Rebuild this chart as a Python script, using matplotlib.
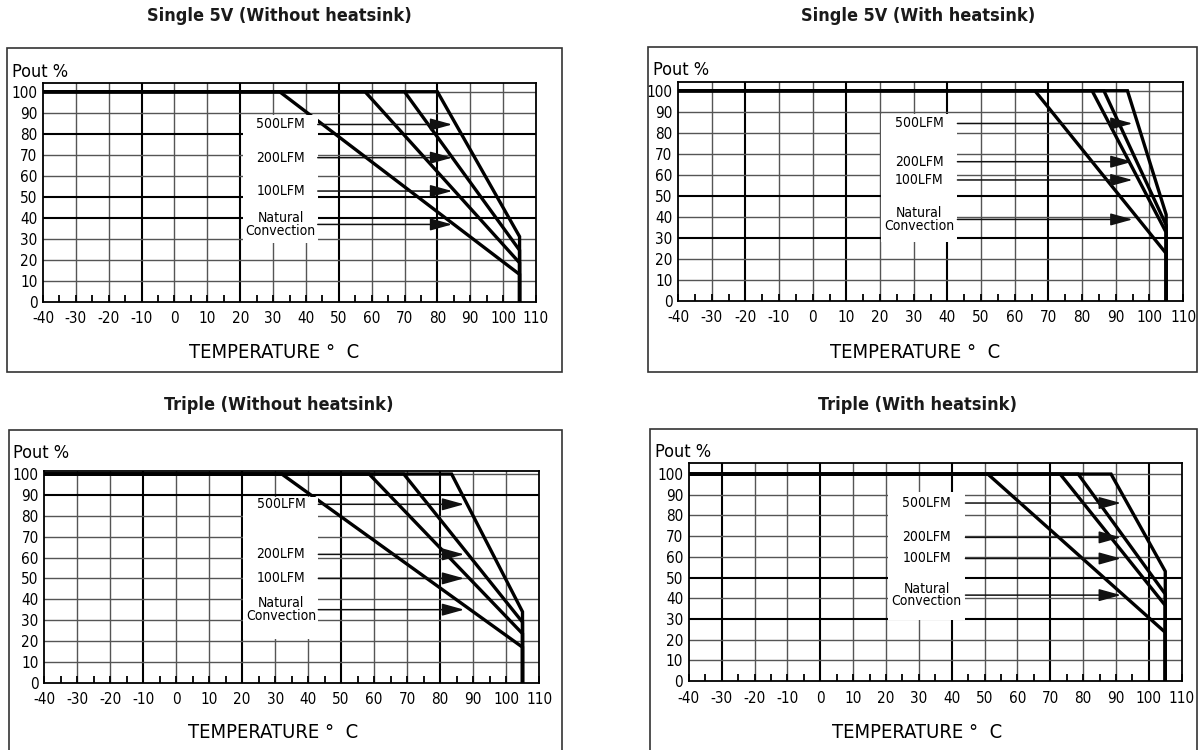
import matplotlib.pyplot as plt
from matplotlib import font_manager as fm
from matplotlib.font_manager import FontProperties
from matplotlib.patches import Rectangle

plt.rcParams['axes.unicode_minus'] = False

W, H = 1198, 750

# Data
labels = ["500LFM", "200LFM", "100LFM", "Natural\nConvection"]
t_min = -40
t_max = 105

# temperature where derating starts (100 %) and Pout % reached at t_max
sv_nohs_knee = [80, 70, 58, 32]
sv_nohs_end = [31, 24.5, 18.5, 13]
sv_hs_knee = [93.5, 86.5, 83, 66]
sv_hs_end = [41, 36, 32.5, 22.5]
tr_nohs_knee = [83.5, 69, 58.5, 32]
tr_nohs_end = [34, 29, 23.5, 17]
tr_hs_knee = [88.5, 78.5, 73, 51]
tr_hs_end = [53, 42, 36.5, 23.5]

# arrow heights (Pout %) and arrow tip temperature
sv_nohs_arrow = [84.4, 68.6, 52.7, 36.8]
sv_hs_arrow = [84.4, 66.2, 57.5, 38.7]
tr_nohs_arrow = [85.5, 61.5, 50, 35]
tr_hs_arrow = [86, 69.4, 59.2, 41.5]
tips = [84.5, 95, 87.3, 91.5]

titles = ["Single 5V (Without heatsink)", "Single 5V (With heatsink)",
          "Triple (Without heatsink)", "Triple (With heatsink)"]

xticks = list(range(-40, 111, 10))
yticks = list(range(0, 101, 10))


def narrow_font(bold):
    # look for an installed condensed / narrow face, the chart uses one
    best = None
    for f in fm.fontManager.ttflist:
        nm = (f.name + ' ' + f.fname).lower()
        cond = 'condensed' in nm or 'narrow' in nm or f.stretch in ('condensed', 'semi-condensed')
        if not cond or f.style != 'normal' or 'mono' in nm or 'cjk' in nm:
            continue
        if 'extra' in nm or 'ultra' in nm:
            continue
        w = f.weight if isinstance(f.weight, int) else {'normal': 400, 'regular': 400,
                                                         'bold': 700}.get(f.weight, 400)
        score = abs(w - (700 if bold else 400)) + (50 if 'semi' in nm else 0)
        if best is None or score < best[0]:
            best = (score, f.fname)
    return best[1] if best else None


reg_path = narrow_font(False)
bold_path = narrow_font(True)


def fp(size, bold=False):
    path = bold_path if bold else reg_path
    if path:
        return FontProperties(fname=path, size=size)
    return FontProperties(family='Liberation Sans', size=size * 0.9,
                          weight='bold' if bold else 'normal')


def fx(x):
    return x / W


def fy(y):
    return 1 - y / H


fig = plt.figure(figsize=(W / 100, H / 100), dpi=100)

panels = [
    dict(ax=(43, 82.7, 536, 301.7), ytop=104.3, frame=(7, 48, 562, 372),
         title=(279, 16), pout=(12, 72), temp=(274, 352),
         box=(21, 43.6, 28, 89), knee=sv_nohs_knee, end=sv_nohs_end, arrow=sv_nohs_arrow,
         vthick=[-10, 20, 50, 80], hthick=[80, 50, 40]),
    dict(ax=(678, 81.7, 1183, 300.7), ytop=104.3, frame=(648, 47, 1197, 372),
         title=(918, 16), pout=(653, 70), temp=(915, 353),
         box=(20.2, 43, 28, 89), knee=sv_hs_knee, end=sv_hs_end, arrow=sv_hs_arrow,
         vthick=[-20, 10, 40, 70], hthick=[50, 30]),
    dict(ax=(44.3, 470.7, 539, 682.7), ytop=101.6, frame=(9, 430, 562, 760),
         title=(279, 405), pout=(13, 453), temp=(273, 733),
         box=(20.4, 43.1, 21, 89), knee=tr_nohs_knee, end=tr_nohs_end, arrow=tr_nohs_arrow,
         vthick=[-10, 20, 50, 80], hthick=[90]),
    dict(ax=(688.8, 463.3, 1181.7, 681), ytop=105.2, frame=(650, 429, 1197, 760),
         title=(918, 405), pout=(655, 452), temp=(917, 733),
         box=(20.6, 44.2, 29.3, 91.2), knee=tr_hs_knee, end=tr_hs_end, arrow=tr_hs_arrow,
         vthick=[-30, 0, 40, 70, 100], hthick=[50, 30]),
]

for i, p in enumerate(panels):
    fl, ft, fr, fb = p['frame']
    fig.patches.append(Rectangle((fx(fl), fy(fb)), fx(fr - fl), (fb - ft) / H,
                                 transform=fig.transFigure, fill=False,
                                 edgecolor='#333333', lw=1.2))
    fig.text(fx(p['title'][0]), fy(p['title'][1]), titles[i], ha='center', va='center',
             fontproperties=fp(13, bold=True), color='#1a1a1a')
    fig.text(fx(p['pout'][0]), fy(p['pout'][1]), "Pout %", ha='left', va='center',
             fontproperties=fp(13))
    fig.text(fx(p['temp'][0]), fy(p['temp'][1]), "TEMPERATURE \u00b0  C", ha='center',
             va='center', fontproperties=fp(14.5))

    l, t, r, b = p['ax']
    ax = fig.add_axes([fx(l), fy(b), (r - l) / W, (b - t) / H])
    ax.set_xlim(-40, 110)
    ax.set_ylim(0, p['ytop'])

    for xv in xticks[1:-1]:
        thick = xv in p['vthick']
        ax.axvline(xv, color='black' if thick else '#555555', lw=1.5 if thick else 1.0, zorder=1)
    for yv in yticks[1:]:
        thick = yv in p['hthick']
        ax.axhline(yv, color='black' if thick else '#555555', lw=1.5 if thick else 1.0, zorder=1)

    for k in range(4):
        ax.plot([t_min, p['knee'][k], t_max, t_max], [100, 100, p['end'][k], 0],
                color='black', lw=2.4, solid_joinstyle='miter', zorder=2)

    x0, x1, y0, y1 = p['box']
    ax.add_patch(Rectangle((x0, y0), x1 - x0, y1 - y0, facecolor='white',
                           edgecolor='none', zorder=3))
    for k in range(4):
        ya = p['arrow'][k]
        ax.text((x0 + x1) / 2, ya, labels[k], ha='center', va='center',
                fontproperties=fp(10), linespacing=0.85, zorder=4)
        ax.annotate("", xy=(tips[i], ya), xytext=(x1, ya),
                    arrowprops=dict(arrowstyle='-|>,head_length=0.9,head_width=0.25',
                                    color='#111111', lw=1.1, mutation_scale=15,
                                    shrinkA=0, shrinkB=0), zorder=4)

    ax.set_xticks(xticks)
    ax.set_xticks(list(range(-35, 110, 10)), minor=True)
    ax.set_yticks(yticks)
    ax.tick_params(axis='x', which='both', direction='in', length=5, width=1.3, pad=7)
    ax.tick_params(axis='y', length=0, pad=4)
    for lbl in ax.get_xticklabels() + ax.get_yticklabels():
        lbl.set_fontproperties(fp(11))
    for s in ax.spines.values():
        s.set_linewidth(1.3)

plt.savefig("out.png", dpi=100)
